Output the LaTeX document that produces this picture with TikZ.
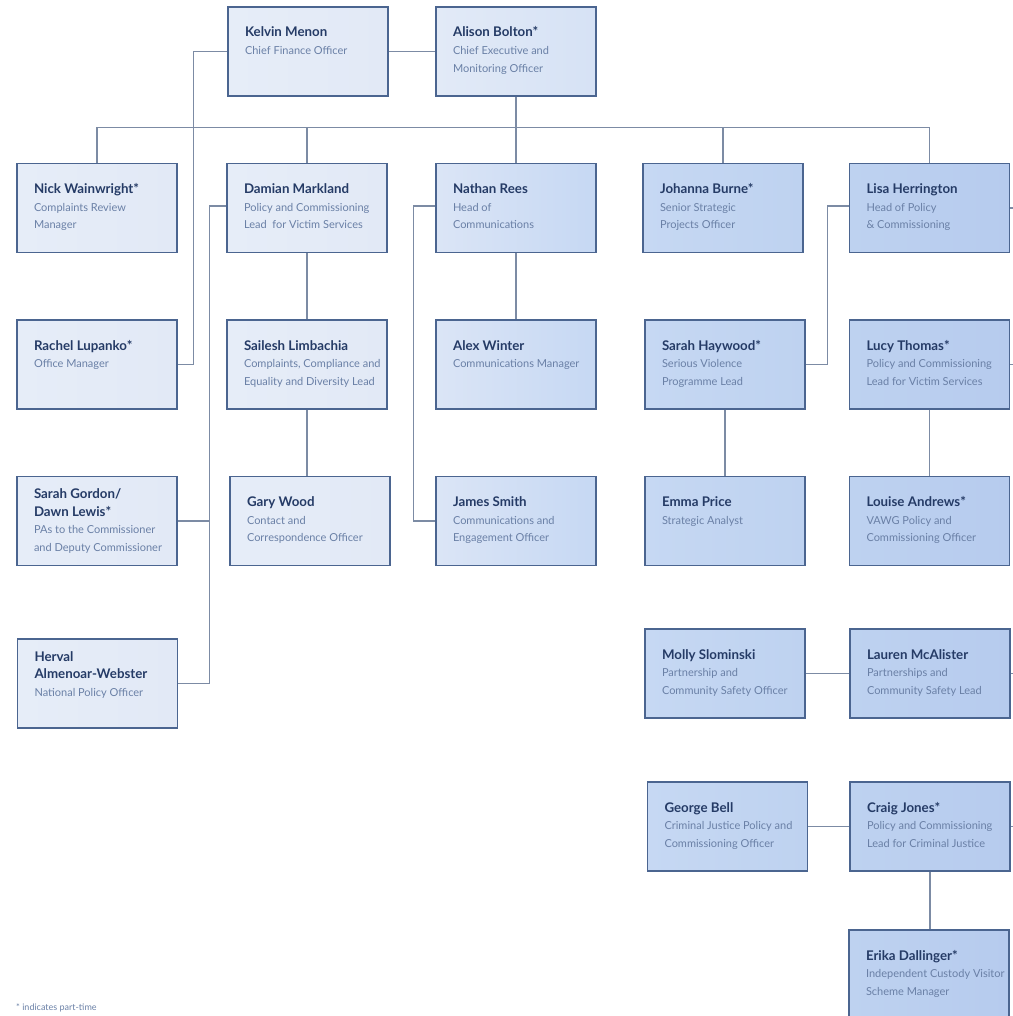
\documentclass[tikz,border=0pt]{standalone}
\usepackage{fontspec}
\setmainfont{Lato}
\definecolor{navy}{HTML}{253B66}
\definecolor{slate}{HTML}{6A80A6}
\definecolor{edge}{HTML}{4B6590}
\definecolor{wire}{HTML}{7C8BA4}
\definecolor{fillA}{HTML}{E6EDF8}
\definecolor{fillB}{HTML}{E2E9F6}
\definecolor{fillC}{HTML}{E2EAF7}
\definecolor{fillD}{HTML}{D6E2F5}
\definecolor{fillE}{HTML}{DBE5F6}
\definecolor{fillF}{HTML}{C6D8F3}
\definecolor{fillG}{HTML}{BED2F0}
\definecolor{fillH}{HTML}{B6CBEE}
\tikzset{
	card/.style={draw=edge,line width=1.4pt,inner sep=0pt,
		font=\fontsize{11}{17.7}\selectfont,text=slate},
	pale/.style={card,left color=fillA,right color=fillB},
	paler/.style={card,left color=fillC,right color=fillD},
	mid/.style={card,left color=fillE,right color=fillF},
	deep/.style={card,left color=fillF,right color=fillG},
	deeper/.style={card,left color=fillG,right color=fillH},
	link/.style={draw=wire,line width=1.1pt},
}
% text of one box: [first baseline]{name}{title}
\newcommand{\who}[3][30]{\parbox[c][89pt][t]{160pt}{\raggedright\leftskip=17pt
	\rule{0pt}{#1pt}{\fontsize{13.3}{17.7}\selectfont\bfseries\color{navy}#2}\\#3}}
\begin{document}
\begin{tikzpicture}[x=1pt,y=-1pt]
	\useasboundingbox (0,0) rectangle (1012,1016);
	% top
	\node[pale] (kelvin) at (308,51.5) {\who{Kelvin Menon}{Chief Finance Officer}};
	\node[paler] (alison) at (516,51.5) {\who{Alison Bolton*}{Chief Executive and\\Monitoring Officer}};
	% second row
	\node[pale] (nick) at (97,208) {\who{Nick Wainwright*}{Complaints Review\\Manager}};
	\node[pale] (damian) at (307,208) {\who{Damian Markland}{Policy and Commissioning\\Lead\ \ for Victim Services}};
	\node[mid] (nathan) at (516,208) {\who{Nathan Rees}{Head of\\Communications}};
	\node[deep] (johanna) at (723,208) {\who{Johanna Burne*}{Senior Strategic\\Projects Officer}};
	\node[deeper] (lisa) at (929.5,208) {\who{Lisa Herrington}{Head of Policy\\\&\ Commissioning}};
	% third row
	\node[pale] (rachel) at (97,364.5) {\who{Rachel Lupanko*}{Office Manager}};
	\node[pale] (sailesh) at (307,364.5) {\who{Sailesh Limbachia}{Complaints, Compliance and\\Equality and Diversity Lead}};
	\node[mid] (alex) at (516,364.5) {\who{Alex Winter}{Communications Manager}};
	\node[deep] (haywood) at (725,364.5) {\who{Sarah Haywood*}{Serious Violence\\Programme Lead}};
	\node[deeper] (lucy) at (929.5,364.5) {\who{Lucy Thomas*}{Policy and Commissioning\\Lead for Victim Services}};
	% fourth row
	\node[pale] (gordon) at (97,521) {\who[22]{Sarah Gordon/\\Dawn Lewis*}{PAs to the Commissioner\\and Deputy Commissioner}};
	\node[pale] (gary) at (310,521) {\who{Gary Wood}{Contact and\\Correspondence Officer}};
	\node[mid] (james) at (516,521) {\who{James Smith}{Communications and\\Engagement Officer}};
	\node[deep] (emma) at (725,521) {\who{Emma Price}{Strategic Analyst}};
	\node[deeper] (louise) at (929.5,521) {\who{Louise Andrews*}{VAWG Policy and\\Commissioning Officer}};
	% lower rows
	\node[pale] (herval) at (97.5,683.5) {\who[22]{Herval\\Almenoar-Webster}{National Policy Officer}};
	\node[deep] (molly) at (725,673.5) {\who{Molly Slominski}{Partnership and\\Community Safety Officer}};
	\node[deeper] (lauren) at (930,673.5) {\who{Lauren McAlister}{Partnerships and\\Community Safety Lead}};
	\node[deep] (george) at (727.5,826.5) {\who{George Bell}{Criminal Justice Policy and\\Commissioning Officer}};
	\node[deeper] (craig) at (930,826.5) {\who{Craig Jones*}{Policy and Commissioning\\Lead for Criminal Justice}};
	\node[deeper] (erika) at (929,974.5) {\who{Erika Dallinger*}{Independent Custody Visitor\\Scheme Manager}};
	\node[anchor=north west,font=\fontsize{9}{10}\selectfont,text=slate,inner sep=0pt] (note) at (16,1004) {* indicates part-time};
	% connectors
	\coordinate (busl) at (97,127.5);
	\coordinate (busr) at (929.5,127.5);
	\draw[link] (busl) -- (busr);
	\draw[link] (kelvin.east) -- (alison.west);
	\draw[link] (alison.south) -- (nathan.north);
	\foreach \n in {nick,damian,johanna,lisa}
		\draw[link] (\n.north) -- (\n.north |- busl);
	\draw[link] (kelvin.west) -- ++(-34,0) |- (rachel.east);
	\draw[link] (damian.west) ++(0,-2) -- ++(-17,0) coordinate (dv) |- (herval.east);
	\draw[link] (gordon.east) -- (gordon.east -| dv);
	\draw[link] (damian.south) -- (sailesh.north);
	\draw[link] (sailesh.south) -- (sailesh.south |- gary.north);
	\draw[link] (nathan.west) ++(0,-2) -- ++(-22,0) |- (james.west);
	\draw[link] (nathan.south) -- (alex.north);
	\draw[link] (lisa.west) ++(0,-2) -- ++(-21,0) |- (haywood.east);
	\draw[link] (haywood.south) -- (emma.north);
	\draw[link] (lucy.south) -- (lucy.south |- louise.north);
	\draw[link] (molly.east) -- (lauren.west);
	\draw[link] (george.east) -- (craig.west);
	\draw[link] (craig.south) -- (craig.south |- erika.north);
	\foreach \n in {lisa,lucy,lauren,craig}
		\draw[link] (\n.east) -- ++(8,0);
\end{tikzpicture}
\end{document}
